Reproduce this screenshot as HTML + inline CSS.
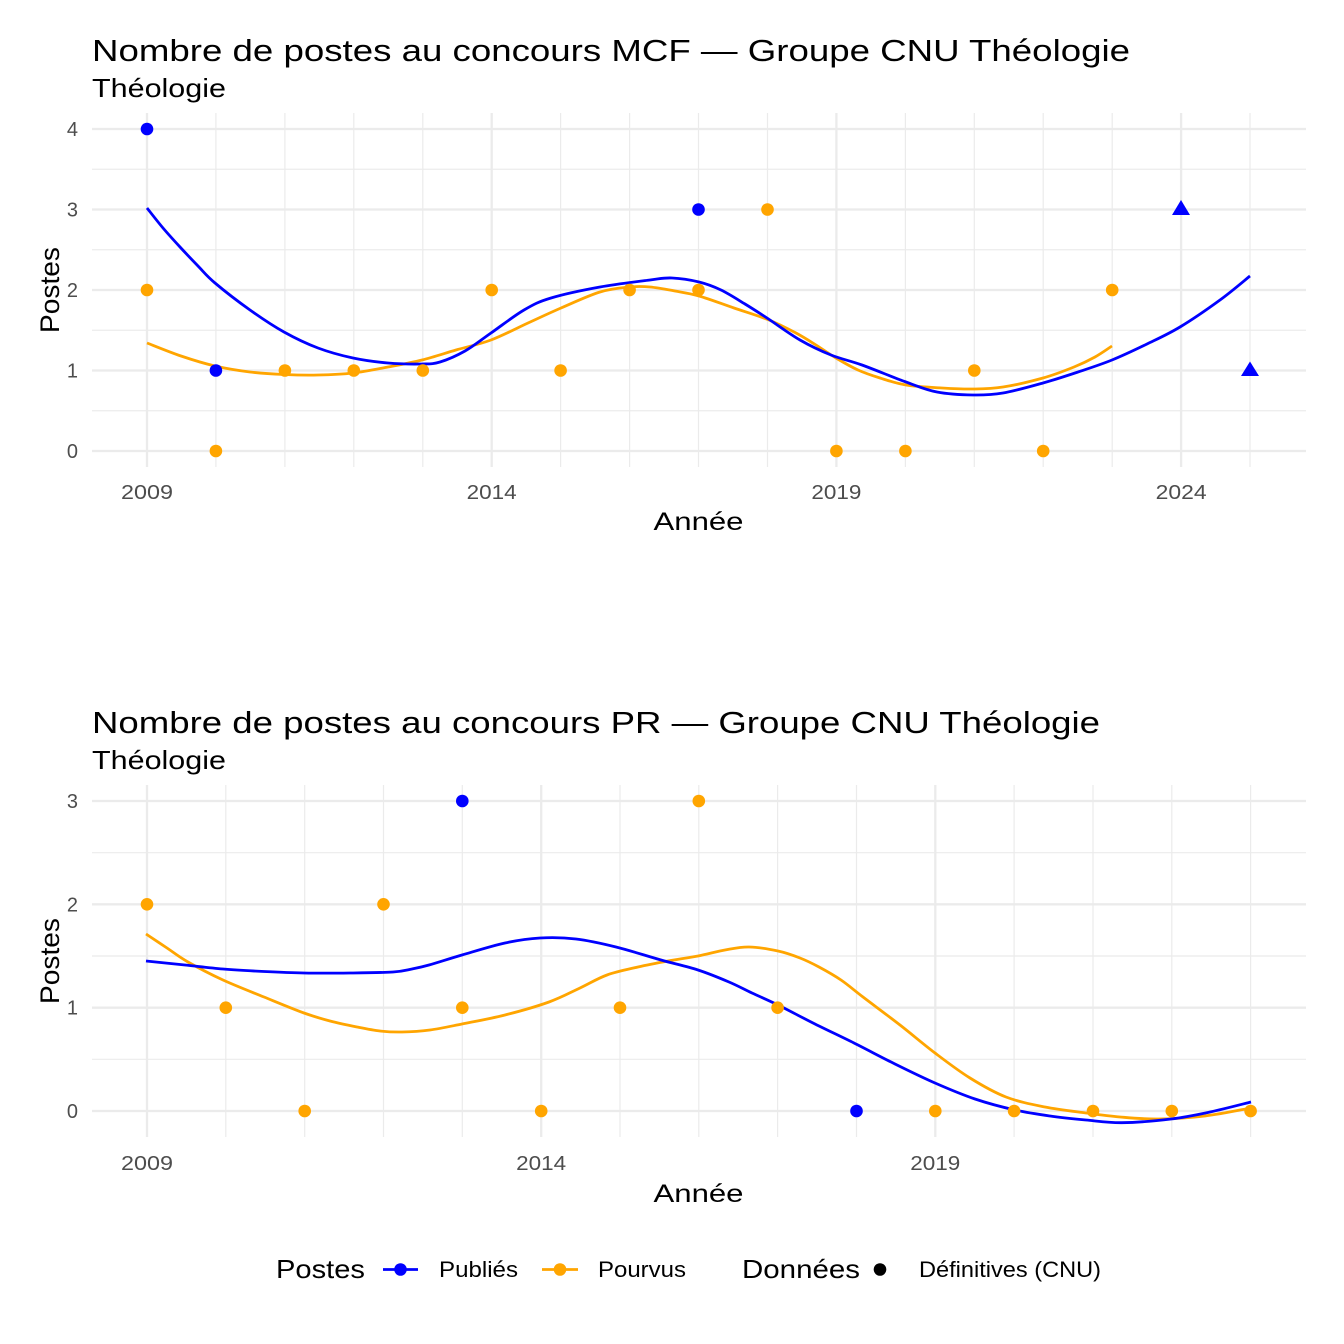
<!DOCTYPE html>
<html>
<head>
<meta charset="utf-8">
<style>
html,body{margin:0;padding:0;background:#fff;}
svg{display:block;}
text{font-family:"Liberation Sans",sans-serif;}
</style>
</head>
<body>
<svg width="1344" height="1344" viewBox="0 0 1344 1344" xmlns="http://www.w3.org/2000/svg">
<rect width="1344" height="1344" fill="#fff"/>

<!-- ================= TOP PANEL (MCF) ================= -->
<text x="92" y="61" font-size="31" fill="#000" textLength="1038" lengthAdjust="spacingAndGlyphs">Nombre de postes au concours MCF —  Groupe CNU Théologie</text>
<text x="92" y="97" font-size="26" fill="#000" textLength="134" lengthAdjust="spacingAndGlyphs">Théologie</text>

<g stroke="#ebebeb" fill="none">
  <g stroke-width="1.2">
    <line x1="92" x2="1306" y1="410.75" y2="410.75"/>
    <line x1="92" x2="1306" y1="330.25" y2="330.25"/>
    <line x1="92" x2="1306" y1="249.75" y2="249.75"/>
    <line x1="92" x2="1306" y1="169.25" y2="169.25"/>
  </g>
  <g stroke-width="1.2">
    <line y1="113" y2="467" x1="215.9" x2="215.9"/>
    <line y1="113" y2="467" x1="284.9" x2="284.9"/>
    <line y1="113" y2="467" x1="353.8" x2="353.8"/>
    <line y1="113" y2="467" x1="422.8" x2="422.8"/>
    <line y1="113" y2="467" x1="560.6" x2="560.6"/>
    <line y1="113" y2="467" x1="629.6" x2="629.6"/>
    <line y1="113" y2="467" x1="698.5" x2="698.5"/>
    <line y1="113" y2="467" x1="767.5" x2="767.5"/>
    <line y1="113" y2="467" x1="905.4" x2="905.4"/>
    <line y1="113" y2="467" x1="974.3" x2="974.3"/>
    <line y1="113" y2="467" x1="1043.2" x2="1043.2"/>
    <line y1="113" y2="467" x1="1112.2" x2="1112.2"/>
    <line y1="113" y2="467" x1="1250" x2="1250"/>
  </g>
  <g stroke-width="2.3">
    <line x1="92" x2="1306" y1="451" y2="451"/>
    <line x1="92" x2="1306" y1="370.5" y2="370.5"/>
    <line x1="92" x2="1306" y1="290" y2="290"/>
    <line x1="92" x2="1306" y1="209.5" y2="209.5"/>
    <line x1="92" x2="1306" y1="129" y2="129"/>
    <line y1="113" y2="467" x1="147" x2="147"/>
    <line y1="113" y2="467" x1="491.7" x2="491.7"/>
    <line y1="113" y2="467" x1="836.4" x2="836.4"/>
    <line y1="113" y2="467" x1="1181.1" x2="1181.1"/>
  </g>
</g>

<g font-size="20" fill="#4d4d4d" text-anchor="end">
  <text x="78" y="458">0</text>
  <text x="78" y="377.5">1</text>
  <text x="78" y="297">2</text>
  <text x="78" y="216.5">3</text>
  <text x="78" y="136">4</text>
</g>
<g font-size="20" fill="#4d4d4d" text-anchor="middle">
  <text x="147" y="499" textLength="52" lengthAdjust="spacingAndGlyphs">2009</text>
  <text x="491.7" y="499" textLength="50" lengthAdjust="spacingAndGlyphs">2014</text>
  <text x="836.4" y="499" textLength="50" lengthAdjust="spacingAndGlyphs">2019</text>
  <text x="1181.1" y="499" textLength="51" lengthAdjust="spacingAndGlyphs">2024</text>
</g>
<text x="698.5" y="530" font-size="25" fill="#000" text-anchor="middle" textLength="90" lengthAdjust="spacingAndGlyphs">Année</text>
<text transform="translate(59,290) rotate(-90)" font-size="27" fill="#000" text-anchor="middle" textLength="86" lengthAdjust="spacingAndGlyphs">Postes</text>

<path class="smooth" fill="none" stroke="#FFA500" stroke-width="2.8" stroke-linejoin="round"
 d="M147,343 L181,356 L215,366 L250,372 L284,374.5 L318,375 L353,373 L388,367 L422,360 L456,350 L491,340 L528,323 L561,308 L600,292 L630,287 L650,287 L675,291 L699,296 L734,308 L769,320 L796,333 L816,345 L836,358 L858,370 L880,378 L906,385 L942,388 L973,389 L1003,387 L1043,378 L1074,367 L1095,357 L1112,346"/>
<path class="smooth" fill="none" stroke="#0000FF" stroke-width="2.8" stroke-linejoin="round"
 d="M147,208 L163,228 L180,247 L198,266 L215,283 L250,310 L284,332 L318,348 L353,358 L388,363 L422,364 L440,362 L465,351 L491,333 L524,310 L551,298 L600,287 L650,280 L672,278 L699,282 L721,290 L745,304 L767,318 L800,340 L831,355 L862,365 L906,382 L937,392 L973,395 L1003,393 L1043,383 L1078,372 L1112,360 L1147,344 L1180,327 L1220,300 L1250,276"/>

<g fill="#0000FF">
  <circle cx="147" cy="129" r="6.3"/>
  <circle cx="215.9" cy="370.5" r="6.3"/>
  <circle cx="698.5" cy="209.5" r="6.3"/>
  <polygon points="1181,200 1190,215 1172,215"/>
  <polygon points="1250,361.5 1259,376 1241,376"/>
</g>
<g fill="#FFA500">
  <circle cx="147" cy="290" r="6.3"/>
  <circle cx="215.9" cy="451" r="6.3"/>
  <circle cx="284.9" cy="370.5" r="6.3"/>
  <circle cx="353.8" cy="370.5" r="6.3"/>
  <circle cx="422.8" cy="370.5" r="6.3"/>
  <circle cx="491.7" cy="290" r="6.3"/>
  <circle cx="560.6" cy="370.5" r="6.3"/>
  <circle cx="629.6" cy="290" r="6.3"/>
  <circle cx="698.5" cy="290" r="6.3"/>
  <circle cx="767.5" cy="209.5" r="6.3"/>
  <circle cx="836.4" cy="451" r="6.3"/>
  <circle cx="905.4" cy="451" r="6.3"/>
  <circle cx="974.3" cy="370.5" r="6.3"/>
  <circle cx="1043.2" cy="451" r="6.3"/>
  <circle cx="1112.2" cy="290" r="6.3"/>
</g>

<!-- ================= BOTTOM PANEL (PR) ================= -->
<text x="92" y="733" font-size="31" fill="#000" textLength="1008" lengthAdjust="spacingAndGlyphs">Nombre de postes au concours PR —  Groupe CNU Théologie</text>
<text x="92" y="769" font-size="26" fill="#000" textLength="134" lengthAdjust="spacingAndGlyphs">Théologie</text>

<g stroke="#ebebeb" fill="none">
  <g stroke-width="1.2">
    <line x1="92" x2="1306" y1="1059.3" y2="1059.3"/>
    <line x1="92" x2="1306" y1="956" y2="956"/>
    <line x1="92" x2="1306" y1="852.7" y2="852.7"/>
  </g>
  <g stroke-width="1.2">
    <line y1="785" y2="1137" x1="225.8" x2="225.8"/>
    <line y1="785" y2="1137" x1="304.7" x2="304.7"/>
    <line y1="785" y2="1137" x1="383.5" x2="383.5"/>
    <line y1="785" y2="1137" x1="462.3" x2="462.3"/>
    <line y1="785" y2="1137" x1="620" x2="620"/>
    <line y1="785" y2="1137" x1="698.8" x2="698.8"/>
    <line y1="785" y2="1137" x1="777.6" x2="777.6"/>
    <line y1="785" y2="1137" x1="856.5" x2="856.5"/>
    <line y1="785" y2="1137" x1="1014.1" x2="1014.1"/>
    <line y1="785" y2="1137" x1="1093" x2="1093"/>
    <line y1="785" y2="1137" x1="1171.8" x2="1171.8"/>
    <line y1="785" y2="1137" x1="1250.6" x2="1250.6"/>
  </g>
  <g stroke-width="2.3">
    <line x1="92" x2="1306" y1="1111" y2="1111"/>
    <line x1="92" x2="1306" y1="1007.7" y2="1007.7"/>
    <line x1="92" x2="1306" y1="904.3" y2="904.3"/>
    <line x1="92" x2="1306" y1="801" y2="801"/>
    <line y1="785" y2="1137" x1="147" x2="147"/>
    <line y1="785" y2="1137" x1="541.2" x2="541.2"/>
    <line y1="785" y2="1137" x1="935.3" x2="935.3"/>
  </g>
</g>

<g font-size="20" fill="#4d4d4d" text-anchor="end">
  <text x="78" y="1118">0</text>
  <text x="78" y="1014.7">1</text>
  <text x="78" y="911.3">2</text>
  <text x="78" y="808">3</text>
</g>
<g font-size="20" fill="#4d4d4d" text-anchor="middle">
  <text x="147" y="1170" textLength="52" lengthAdjust="spacingAndGlyphs">2009</text>
  <text x="541.2" y="1170" textLength="50" lengthAdjust="spacingAndGlyphs">2014</text>
  <text x="935.3" y="1170" textLength="50" lengthAdjust="spacingAndGlyphs">2019</text>
</g>
<text x="698.5" y="1202" font-size="25" fill="#000" text-anchor="middle" textLength="90" lengthAdjust="spacingAndGlyphs">Année</text>
<text transform="translate(59,961) rotate(-90)" font-size="27" fill="#000" text-anchor="middle" textLength="86" lengthAdjust="spacingAndGlyphs">Postes</text>

<path class="smooth" fill="none" stroke="#FFA500" stroke-width="2.8" stroke-linejoin="round"
 d="M146,934 L167,948 L188,962 L223,980 L264,997 L304,1013 L330,1021 L357,1027 L380,1031 L402,1032 L430,1030 L462,1024 L505,1015 L549,1002 L580,988 L607,975 L638,967 L668,961 L698,956 L725,950 L749,947 L778,951 L800,958 L819,967 L841,980 L863,997 L900,1025 L935,1053 L970,1078 L1006,1097 L1045,1107 L1086,1113 L1120,1117 L1158,1119 L1205,1116 L1251,1108"/>
<path class="smooth" fill="none" stroke="#0000FF" stroke-width="2.8" stroke-linejoin="round"
 d="M146,961 L185,965 L223,969 L264,971.5 L304,973 L350,973 L393,972 L412,969 L429,965 L462,955 L505,943 L540,938 L576,939 L616,947 L661,960 L698,970 L729,982 L752,993 L778,1005 L815,1024 L854,1043 L895,1064 L935,1083 L975,1099 L1015,1110 L1050,1116 L1086,1120 L1122,1122.7 L1171,1119 L1210,1112 L1251,1102"/>

<g fill="#0000FF">
  <circle cx="462.3" cy="801" r="6.3"/>
  <circle cx="856.5" cy="1111" r="6.3"/>
</g>
<g fill="#FFA500">
  <circle cx="147" cy="904.3" r="6.3"/>
  <circle cx="225.8" cy="1007.7" r="6.3"/>
  <circle cx="304.7" cy="1111" r="6.3"/>
  <circle cx="383.5" cy="904.3" r="6.3"/>
  <circle cx="462.3" cy="1007.7" r="6.3"/>
  <circle cx="541.2" cy="1111" r="6.3"/>
  <circle cx="620" cy="1007.7" r="6.3"/>
  <circle cx="698.8" cy="801" r="6.3"/>
  <circle cx="777.6" cy="1007.7" r="6.3"/>
  <circle cx="935.3" cy="1111" r="6.3"/>
  <circle cx="1014.1" cy="1111" r="6.3"/>
  <circle cx="1093" cy="1111" r="6.3"/>
  <circle cx="1171.8" cy="1111" r="6.3"/>
  <circle cx="1250.6" cy="1111" r="6.3"/>
</g>

<!-- ================= LEGEND ================= -->
<text x="276" y="1278" font-size="26" fill="#000" textLength="89" lengthAdjust="spacingAndGlyphs">Postes</text>
<line x1="383" x2="418" y1="1269.5" y2="1269.5" stroke="#0000FF" stroke-width="2.8"/>
<circle cx="400.5" cy="1269.5" r="6.3" fill="#0000FF"/>
<text x="439" y="1277" font-size="22" fill="#000" textLength="79" lengthAdjust="spacingAndGlyphs">Publiés</text>
<line x1="542" x2="578" y1="1269.5" y2="1269.5" stroke="#FFA500" stroke-width="2.8"/>
<circle cx="560" cy="1269.5" r="6.3" fill="#FFA500"/>
<text x="598" y="1277" font-size="22" fill="#000" textLength="88" lengthAdjust="spacingAndGlyphs">Pourvus</text>
<text x="742" y="1278" font-size="26" fill="#000" textLength="118" lengthAdjust="spacingAndGlyphs">Données</text>
<circle cx="880" cy="1269.5" r="6.3" fill="#000"/>
<text x="919" y="1277" font-size="22" fill="#000" textLength="182" lengthAdjust="spacingAndGlyphs">Définitives (CNU)</text>
</svg>
<script>
(function(){
  var paths=document.querySelectorAll('path.smooth');
  for(var k=0;k<paths.length;k++){
    var p=paths[k];
    var nums=p.getAttribute('d').match(/-?\d+(\.\d+)?/g).map(Number);
    var pts=[];
    for(var i=0;i+1<nums.length;i+=2)pts.push([nums[i],nums[i+1]]);
    var n=pts.length;
    var d='M'+pts[0][0]+','+pts[0][1];
    for(var i=0;i<n-1;i++){
      var p0=pts[i>0?i-1:i],p1=pts[i],p2=pts[i+1],p3=pts[i+2<n?i+2:i+1];
      var c1x=p1[0]+(p2[0]-p0[0])/6,c1y=p1[1]+(p2[1]-p0[1])/6;
      var c2x=p2[0]-(p3[0]-p1[0])/6,c2y=p2[1]-(p3[1]-p1[1])/6;
      d+=' C'+c1x.toFixed(2)+','+c1y.toFixed(2)+' '+c2x.toFixed(2)+','+c2y.toFixed(2)+' '+p2[0]+','+p2[1];
    }
    p.setAttribute('d',d);
  }
})();
</script>
</body>
</html>
